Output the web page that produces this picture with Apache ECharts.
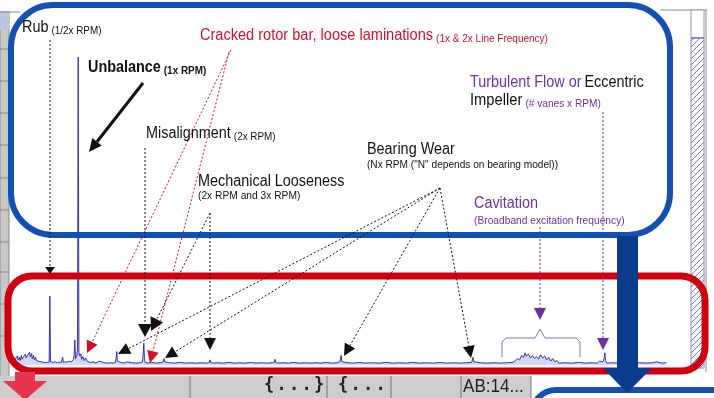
<!DOCTYPE html>
<html>
<head>
<meta charset="utf-8">
<script src="https://cdn.jsdelivr.net/npm/echarts@6/dist/echarts.min.js"></script>
<style>
  html, body { margin: 0; padding: 0; background: #fff; }
  #chart { width: 714px; height: 398px; }
</style>
</head>
<body>
<div id="chart"></div>
<script>
// spectrum, frequency in Hz (0..1000) and amplitude (0..1)
const freq = [
  0, 2, 3, 5, 6, 8, 9, 11, 12, 14, 15, 17, 18, 20, 21, 23, 24, 26, 27, 29,
  30, 32, 33, 35, 36, 38, 40, 42, 44, 46, 48, 50, 52, 53, 54, 56, 58, 61, 64, 67,
  70, 72, 73, 76, 79, 82, 85, 88, 89, 90, 91, 93, 94, 95, 96, 97, 99, 100, 102, 104,
  106, 108, 110, 113, 117, 121, 126, 127, 132, 137, 142, 147, 150, 151, 152, 153, 154, 158, 163, 168,
  169, 174, 180, 186, 190, 191, 192, 193, 194, 198, 204, 210, 216, 220, 221, 222, 223, 224, 230, 238,
  246, 254, 262, 270, 278, 286, 289, 290, 291, 294, 300, 310, 318, 326, 334, 342, 350, 358, 366, 374,
  382, 385, 386, 387, 390, 398, 406, 414, 422, 430, 438, 446, 454, 462, 470, 478, 482, 483, 484, 485,
  486, 494, 502, 510, 520, 530, 540, 550, 560, 570, 580, 590, 600, 610, 620, 630, 640, 650, 660, 670,
  677, 678, 679, 680, 682, 690, 700, 710, 720, 730, 738, 742, 745, 748, 751, 754, 756, 758, 761, 764,
  767, 770, 773, 776, 779, 782, 785, 788, 791, 794, 797, 800, 803, 806, 815, 825, 835, 845, 855, 863,
  866, 868, 871, 873, 874, 875, 877, 885, 895, 905, 915, 925, 935, 945, 950, 951, 952, 958, 965
];
const amp = [
  0.012, 0.02, 0.014, 0.028, 0.016, 0.024, 0.014, 0.03, 0.018, 0.026, 0.02, 0.034, 0.022, 0.03, 0.024, 0.04, 0.026, 0.036, 0.02, 0.03,
  0.016, 0.024, 0.014, 0.02, 0.012, 0.018, 0.01, 0.016, 0.008, 0.012, 0.008, 0.01, 0.009, 0.215, 0.01, 0.012, 0.008, 0.01, 0.007, 0.009,
  0.008, 0.024, 0.008, 0.01, 0.009, 0.012, 0.01, 0.018, 0.03, 0.078, 0.02, 0.03, 0.05, 0.962, 0.04, 0.028, 0.035, 0.018, 0.026, 0.014,
  0.022, 0.012, 0.016, 0.008, 0.01, 0.006, 0.012, 0.006, 0.008, 0.006, 0.007, 0.006, 0.008, 0.02, 0.042, 0.012, 0.006, 0.008, 0.006, 0.01,
  0.006, 0.007, 0.006, 0.007, 0.01, 0.03, 0.068, 0.02, 0.008, 0.006, 0.008, 0.006, 0.007, 0.008, 0.012, 0.02, 0.01, 0.006, 0.007, 0.006,
  0.008, 0.006, 0.007, 0.006, 0.007, 0.006, 0.008, 0.016, 0.008, 0.006, 0.007, 0.006, 0.008, 0.006, 0.007, 0.006, 0.008, 0.006, 0.007, 0.006,
  0.007, 0.008, 0.018, 0.008, 0.006, 0.007, 0.006, 0.008, 0.006, 0.007, 0.006, 0.007, 0.006, 0.008, 0.006, 0.007, 0.01, 0.02, 0.03, 0.01,
  0.006, 0.007, 0.006, 0.008, 0.006, 0.007, 0.006, 0.008, 0.006, 0.007, 0.006, 0.008, 0.006, 0.007, 0.006, 0.008, 0.006, 0.007, 0.006, 0.007,
  0.008, 0.014, 0.024, 0.01, 0.006, 0.007, 0.006, 0.007, 0.006, 0.007, 0.008, 0.014, 0.02, 0.016, 0.03, 0.024, 0.038, 0.028, 0.034, 0.022,
  0.03, 0.02, 0.026, 0.018, 0.032, 0.022, 0.028, 0.016, 0.024, 0.012, 0.02, 0.01, 0.014, 0.006, 0.007, 0.006, 0.008, 0.006, 0.007, 0.006,
  0.012, 0.008, 0.01, 0.02, 0.038, 0.014, 0.006, 0.007, 0.006, 0.008, 0.006, 0.007, 0.006, 0.007, 0.01, 0.014, 0.007, 0.006, 0.007
];
// grid cells at the bottom of the screenshot
const bottomCells = ['{ . . . }', '{ . . .', 'AB:14...'];

const FONT = "'Liberation Sans', Arial, sans-serif";
const BLACK = '#111';
const RED = '#d0102a';
const PURPLE = '#7030a0';
const BLUE = '#1450b4';
const NAVY = '#0b3b8c';

const chart = echarts.init(document.getElementById('chart'));

// hatch pattern for the scrollbar-like column on the right
const hatch = document.createElement('canvas');
hatch.width = 6; hatch.height = 6;
const hc = hatch.getContext('2d');
hc.fillStyle = '#fff'; hc.fillRect(0, 0, 6, 6);
hc.strokeStyle = '#7878c8'; hc.lineWidth = 1;
hc.beginPath(); hc.moveTo(-1, 7); hc.lineTo(7, -1); hc.stroke();

function arrow(x1, y1, x2, y2, color, dashed, len, half, width) {
  const a = Math.atan2(y2 - y1, x2 - x1);
  const bx = x2 - len * Math.cos(a), by = y2 - len * Math.sin(a);
  const nx = -Math.sin(a) * half, ny = Math.cos(a) * half;
  return [
    { type: 'line', z: 20, shape: { x1, y1, x2: bx, y2: by },
      style: { stroke: color, lineWidth: width || 1, lineDash: dashed ? [2, 2] : null } },
    { type: 'polygon', z: 20, shape: { points: [[x2, y2], [bx + nx, by + ny], [bx - nx, by - ny]] },
      style: { fill: color } }
  ];
}

// the source font is a condensed Arial, so text gets squeezed horizontally
function label(x, y, main, small, color, smallColor, bold, sx) {
  return {
    type: 'text', z: 30, x, y, scaleX: sx || 0.9,
    style: {
      text: '{a|' + main + '}' + (small ? ' {s|' + small + '}' : ''),
      verticalAlign: 'bottom',
      rich: {
        a: { fontFamily: FONT, fontSize: 16, fontWeight: bold ? 'bold' : 'normal', fill: color, lineHeight: 16, verticalAlign: 'bottom' },
        s: { fontFamily: FONT, fontSize: 11, fontWeight: bold ? 'bold' : 'normal', fill: smallColor || color, lineHeight: 11, verticalAlign: 'bottom' }
      }
    }
  };
}

function plain(x, y, text, size, color, sx) {
  return { type: 'text', z: 30, x, y, scaleX: sx, style: { text, font: size + 'px ' + FONT, fill: color, verticalAlign: 'bottom' } };
}

const graphics = [];
// left gray table column
graphics.push({ type: 'rect', z: 1, shape: { x: 0, y: 12, width: 9, height: 366 }, style: { fill: '#c8c8c8', stroke: '#8a8a8a', lineWidth: 1 } });
graphics.push({ type: 'rect', z: 1, shape: { x: 0, y: 12, width: 9, height: 18 }, style: { fill: '#b8c8e0' } });
[49, 81, 113, 145, 178, 210, 242, 272, 304, 336].forEach(y => {
  graphics.push({ type: 'line', z: 1, shape: { x1: 0, y1: y, x2: 9, y2: y }, style: { stroke: '#8a8a8a', lineWidth: 1 } });
});
graphics.push({ type: 'line', z: 1, shape: { x1: 0, y1: 12, x2: 20, y2: 12 }, style: { stroke: '#8a8a8a', lineWidth: 1 } });
// bottom gray bar
graphics.push({ type: 'rect', z: 1, shape: { x: 0, y: 376, width: 531, height: 24 }, style: { fill: '#cdcdcd' } });
[190, 327, 391, 461, 531].forEach(x => {
  graphics.push({ type: 'line', z: 1, shape: { x1: x, y1: 376, x2: x, y2: 398 }, style: { stroke: '#7a7a7a', lineWidth: 1 } });
});
// cell contents, spread glyph by glyph like the spreadsheet font
function spread(x0, step, text) {
  text.replace(/ /g, '').split('').forEach((ch, i) => {
    graphics.push({ type: 'text', z: 2, x: x0 + i * step, y: 386, style: { text: ch, font: "bold 17px 'DejaVu Sans Mono', monospace", fill: '#222', verticalAlign: 'middle' } });
  });
}
spread(264, 12.5, bottomCells[0]);
spread(338, 12.5, bottomCells[1]);
graphics.push({ type: 'text', z: 2, x: 463, y: 387, scaleX: 0.9, style: { text: bottomCells[2], font: '19px ' + FONT, fill: '#222', verticalAlign: 'middle' } });
// right hatched column
graphics.push({ type: 'line', z: 1, shape: { x1: 660, y1: 10, x2: 707, y2: 10 }, style: { stroke: '#8a8a8a', lineWidth: 1 } });
graphics.push({ type: 'line', z: 1, shape: { x1: 706, y1: 10, x2: 706, y2: 372 }, style: { stroke: '#8a8a8a', lineWidth: 1 } });
graphics.push({ type: 'rect', z: 1, shape: { x: 691, y: 10, width: 13, height: 28 }, style: { fill: '#fff', stroke: '#9a9a9a', lineWidth: 1 } });
graphics.push({ type: 'rect', z: 1, shape: { x: 691, y: 38, width: 13, height: 330 }, style: { fill: { image: hatch, repeat: 'repeat' }, stroke: '#8a8ab8', lineWidth: 1 } });
graphics.push({ type: 'line', z: 1, shape: { x1: 691, y1: 38, x2: 704, y2: 38 }, style: { stroke: '#6a6ac0', lineWidth: 1 } });

// boxes
graphics.push({ type: 'rect', z: 10, shape: { x: 11, y: 5, width: 659, height: 230, r: 42 }, style: { fill: 'none', stroke: BLUE, lineWidth: 6 } });
graphics.push({ type: 'rect', z: 10, shape: { x: 8, y: 276, width: 697, height: 95, r: 24 }, style: { fill: 'none', stroke: '#d00010', lineWidth: 7 } });
graphics.push({ type: 'rect', z: 10, shape: { x: 532, y: 390, width: 240, height: 60, r: 24 }, style: { fill: 'none', stroke: BLUE, lineWidth: 6 } });
// red arrow bottom left
graphics.push({ type: 'rect', z: 11, shape: { x: 15, y: 372, width: 20, height: 10 }, style: { fill: '#e8344e' } });
graphics.push({ type: 'polygon', z: 11, shape: { points: [[3, 381], [47, 381], [25, 400]] }, style: { fill: '#e8344e' } });
// navy arrow down the right side
graphics.push({ type: 'rect', z: 12, shape: { x: 617, y: 236, width: 21, height: 133 }, style: { fill: NAVY } });
graphics.push({ type: 'polygon', z: 12, shape: { points: [[603, 368], [652, 368], [627, 393]] }, style: { fill: NAVY } });

// annotation arrows
graphics.push(...arrow(50, 40, 50, 274, BLACK, true, 7, 5));
graphics.push(...arrow(143, 83, 89, 152, BLACK, false, 13, 6, 3));
graphics.push(...arrow(231, 50, 87, 353, RED, true, 12, 6));
graphics.push(...arrow(229, 52, 150, 363, RED, true, 12, 6));
graphics.push(...arrow(145, 148, 145, 337, BLACK, true, 13, 7));
graphics.push(...arrow(210, 213, 151, 331, BLACK, true, 13, 7));
graphics.push(...arrow(210, 213, 210, 350, BLACK, true, 12, 6));
graphics.push(...arrow(440, 188, 118, 354, BLACK, true, 12, 6));
graphics.push(...arrow(440, 188, 165, 358, BLACK, true, 12, 6));
graphics.push(...arrow(440, 188, 344, 356, BLACK, true, 12, 6));
graphics.push(...arrow(440, 188, 471, 358, BLACK, true, 12, 6));
graphics.push(...arrow(540, 227, 540, 320, PURPLE, true, 12, 6));
graphics.push(...arrow(603, 112, 603, 350, PURPLE, true, 12, 6));
// cavitation brace
graphics.push({ type: 'polyline', z: 20, shape: { points: [[502, 357], [502, 342], [506, 338], [535, 338], [540, 329]] },
  style: { fill: null, stroke: '#8a6cc0', lineWidth: 1 } });
graphics.push({ type: 'polyline', z: 20, shape: { points: [[540, 329], [545, 338], [576, 338], [580, 342], [580, 357]] },
  style: { fill: null, stroke: '#8a6cc0', lineWidth: 1 } });

// labels
graphics.push(label(22, 36, 'Rub', '(1/2x RPM)', BLACK));
graphics.push(label(200, 44, 'Cracked rotor bar, loose laminations', '(1x & 2x Line Frequency)', RED, null, false, 0.91));
graphics.push(label(88, 76, 'Unbalance', '(1x RPM)', BLACK, null, true));
graphics.push(label(146, 142, 'Misalignment', '(2x RPM)', BLACK));
graphics.push(plain(198, 190, 'Mechanical Looseness', 16, BLACK, 0.9));
graphics.push(plain(198, 201, '(2x RPM and 3x RPM)', 11, BLACK, 0.93));
graphics.push(plain(367, 158, 'Bearing Wear', 16, BLACK, 0.9));
graphics.push(plain(367, 170, '(Nx RPM ("N" depends on bearing model))', 11, BLACK, 0.92));
graphics.push({
  type: 'text', z: 30, x: 470, y: 91, scaleX: 0.9,
  style: {
    text: '{p|Turbulent Flow or} {a|Eccentric}', verticalAlign: 'bottom',
    rich: {
      p: { fontFamily: FONT, fontSize: 16, fill: PURPLE, lineHeight: 16, verticalAlign: 'bottom' },
      a: { fontFamily: FONT, fontSize: 16, fill: BLACK, lineHeight: 16, verticalAlign: 'bottom' }
    }
  }
});
graphics.push(label(470, 109, 'Impeller', '(# vanes x RPM)', BLACK, PURPLE, false, 0.92));
graphics.push(plain(474, 212, 'Cavitation', 16, PURPLE, 0.9));
graphics.push(plain(474, 226, '(Broadband excitation frequency)', 11, PURPLE, 0.93));

const option = {
  backgroundColor: '#fff',
  animation: false,
  grid: { left: 14, right: 24, top: 45, bottom: 33 },
  xAxis: { type: 'value', min: 0, max: 1000, show: false },
  yAxis: { type: 'value', min: 0, max: 1, show: false },
  series: [
    {
      type: 'line',
      data: freq.map((f, i) => [f, amp[i]]),
      showSymbol: false,
      z: 5,
      lineStyle: { color: '#3434a8', width: 1 },
      areaStyle: { color: 'rgba(150,150,225,0.55)' }
    }
  ],
  graphic: graphics
}
option && chart.setOption(option)
</script>
</body>
</html>
